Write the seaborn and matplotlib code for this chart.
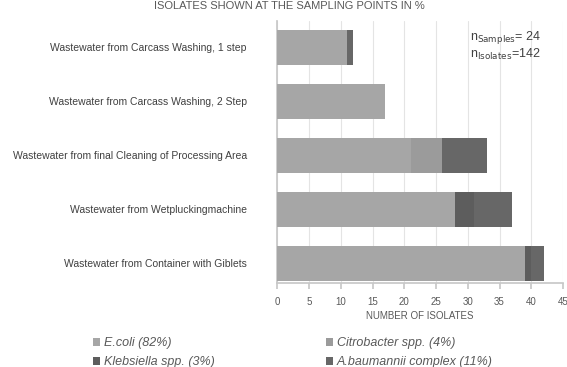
import numpy as np
import pandas as pd
import matplotlib
matplotlib.use("Agg")
import matplotlib.pyplot as plt
from matplotlib.patches import Patch
import seaborn as sns

# Sampling points (top to bottom) and isolate counts per species
sites = [
    "Wastewater from Carcass Washing, 1 step",
    "Wastewater from Carcass Washing, 2 Step",
    "Wastewater from final Cleaning of Processing Area",
    "Wastewater from Wetpluckingmachine",
    "Wastewater from Container with Giblets",
]
ecoli = [11, 17, 21, 28, 39]
citrobacter = [0, 0, 5, 0, 0]
klebsiella = [0, 0, 0, 3, 1]
abaumannii = [1, 0, 7, 6, 2]

species = ["E.coli (82%)", "Citrobacter spp. (4%)",
           "Klebsiella spp. (3%)", "A.baumannii complex (11%)"]
colors = ["#a6a6a6", "#9b9b9b", "#5d5d5d", "#676767"]
xticks = [0, 5, 10, 15, 20, 25, 30, 35, 40, 45]

sns.set_theme(style="white")
plt.rcParams["font.family"] = ["Liberation Sans", "DejaVu Sans"]

df = pd.DataFrame({"site": sites, "E": ecoli, "C": citrobacter,
                   "K": klebsiella, "A": abaumannii})
df["cum_C"] = df["E"] + df["C"]
df["cum_K"] = df["cum_C"] + df["K"]
df["cum_A"] = df["cum_K"] + df["A"]

fig = plt.figure(figsize=(5.67, 3.67), dpi=100)
ax = fig.add_axes([0.489, 0.229, 0.504, 0.715])

# stacked bars: draw cumulative totals from the outermost segment inward
for col, c in zip(["cum_A", "cum_K", "cum_C", "E"], colors[::-1]):
    sns.barplot(data=df, y="site", x=col, color=c, orient="h",
                width=0.65, linewidth=0, saturation=1, ax=ax, zorder=3)

ax.set_xlim(0, 45)
ax.set_ylim(4.37, -0.5)
ax.set_xticks(xticks)
ax.set_xticklabels([str(t) for t in xticks], fontsize=7, color="#595959")
ax.grid(axis="x", color="#e4e4e4", linewidth=0.8, zorder=0)
for s in ["top", "right"]:
    ax.spines[s].set_visible(False)
ax.spines["bottom"].set_color("#c8c8c8")
ax.spines["left"].set_color("#c8c8c8")
ax.tick_params(axis="x", length=4, color="#c8c8c8", pad=6, direction="out",
               bottom=True)
ax.tick_params(axis="y", length=0, pad=22, labelsize=7.5, labelcolor="#404040")
ax.set_ylabel("")
ax.set_xlabel("NUMBER OF ISOLATES", fontsize=7, color="#595959", labelpad=3)

ax.text(0.675, 0.937, r"n$_{\mathrm{Samples}}$= 24", transform=ax.transAxes,
        fontsize=9, color="#404040", va="center")
ax.text(0.675, 0.872, r"n$_{\mathrm{Isolates}}$=142", transform=ax.transAxes,
        fontsize=9, color="#404040", va="center")

fig.text(0.51, 0.998, "ISOLATES SHOWN AT THE SAMPLING POINTS IN %",
         ha="center", va="top", fontsize=8, color="#595959")

# legend filled row by row: E.coli | Citrobacter, Klebsiella | A.baumannii
order = [0, 2, 1, 3]
handles = [Patch(facecolor=colors[i], edgecolor="none") for i in order]
labels = [species[i] for i in order]
fig.legend(handles, labels, loc="lower left", bbox_to_anchor=(0.145, -0.034),
           ncol=2, frameon=False, handlelength=0.55, handleheight=0.55,
           handletextpad=0.3, columnspacing=8.9, labelspacing=0.55,
           prop={"style": "italic", "size": 9}, labelcolor="#595959")

fig.savefig("out.png", dpi=100)
